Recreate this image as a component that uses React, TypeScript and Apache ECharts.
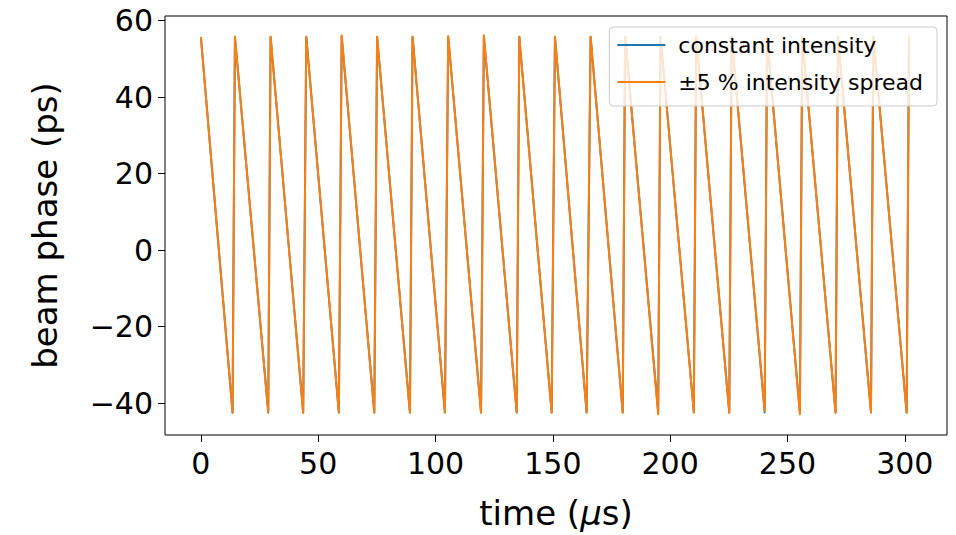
import React, { useEffect, useRef } from "react";
import * as echarts from "echarts";

// Sawtooth vertices (time in µs, phase in ps)
const peakTimes = [0, 14.5, 29.7, 44.9, 60.0, 75.1, 90.2, 105.4, 120.6, 135.7, 150.9, 166.1, 180.8, 195.9, 211.1, 226.2, 241.3, 256.3, 271.5, 286.6, 301.8];
const bottomTimes = [13.5, 28.7, 43.6, 58.8, 73.9, 89.1, 104.0, 119.4, 134.6, 149.5, 164.4, 179.8, 194.9, 210.1, 225.2, 240.3, 255.3, 270.5, 285.6, 300.8];

const constPeaks = [55.7, 55.8, 55.8, 55.8, 55.8, 55.8, 55.8, 55.8, 55.8, 55.8, 55.8, 55.8, 55.8, 55.8, 55.8, 55.8, 55.8, 55.8, 55.8, 55.8, 55.8];
const constBottoms = [-42.4, -42.4, -42.4, -42.4, -42.4, -42.4, -42.4, -42.4, -42.4, -42.4, -42.4, -42.4, -42.4, -42.4, -42.4, -42.4, -42.4, -42.4, -42.4, -42.4];

const spreadPeaks = [55.7, 55.8, 55.8, 55.8, 56.2, 55.8, 55.8, 55.9, 56.2, 55.8, 55.8, 55.8, 55.8, 55.8, 55.9, 55.8, 55.8, 55.8, 55.8, 55.8, 55.8];
const spreadBottoms = [-42.5, -42.4, -42.5, -42.4, -42.5, -42.5, -42.4, -42.5, -42.4, -42.5, -42.4, -42.5, -42.9, -42.4, -42.5, -42.0, -42.9, -42.5, -42.4, -42.5];

const xTicks = [0, 50, 100, 150, 200, 250, 300];
const yTicks = [-40, -20, 0, 20, 40, 60];
const seriesNames = ["constant intensity", "±5 % intensity spread"];
const seriesColors = ["#1f77b4", "#ff7f0e"];

function buildPoints(peaks: number[], bottoms: number[]): number[][] {
  const pts: number[][] = [];
  for (let i = 0; i < peakTimes.length; i++) {
    pts.push([peakTimes[i], peaks[i]]);
    if (i < bottomTimes.length) pts.push([bottomTimes[i], bottoms[i]]);
  }
  return pts;
}

const FONT = "DejaVu Sans";
const fmt = (v: number) => (v < 0 ? "\u2212" + Math.abs(v) : String(v));

export default function App() {
  const ref = useRef<HTMLDivElement>(null);
  useEffect(() => {
    if (!ref.current) return;
    const chart = echarts.init(ref.current, null, { renderer: "svg" });
    chart.setOption({
      animation: false,
      backgroundColor: "#ffffff",
      grid: {
        left: 165,
        right: 9,
        top: 16,
        bottom: 98,
        show: true,
        borderColor: "#000000",
        borderWidth: 1,
        backgroundColor: "transparent",
      },
      legend: {
        data: seriesNames,
        orient: "vertical",
        right: 19,
        top: 27,
        icon: "rect",
        itemWidth: 48,
        itemHeight: 2,
        itemGap: 13,
        padding: [6, 14, 12, 8],
        backgroundColor: "rgba(255,255,255,0.8)",
        borderColor: "#cccccc",
        borderWidth: 1,
        borderRadius: 4,
        textStyle: {
          fontFamily: FONT,
          fontSize: 22,
          color: "#000000",
          lineHeight: 24,
          padding: [0, 0, 0, 8],
        },
      },
      xAxis: {
        type: "value",
        min: -15.3,
        max: 318,
        name: "time ({i|μ}s)",
        nameLocation: "middle",
        nameGap: 61,
        nameTextStyle: {
          fontFamily: FONT,
          fontSize: 34,
          color: "#000000",
          rich: {
            i: { fontFamily: FONT, fontSize: 34, fontStyle: "italic", color: "#000000" },
          },
        },
        splitLine: { show: false },
        axisLine: { show: false, onZero: false },
        axisTick: {
          show: true,
          inside: false,
          length: 7,
          lineStyle: { color: "#000000", width: 1 },
          customValues: xTicks,
        },
        axisLabel: {
          fontFamily: FONT,
          fontSize: 30,
          color: "#000000",
          margin: 13,
          customValues: xTicks,
          formatter: fmt,
        },
      },
      yAxis: {
        type: "value",
        min: -48.3,
        max: 61.2,
        name: "beam phase (ps)",
        nameLocation: "middle",
        nameRotate: 90,
        nameGap: 103,
        nameTextStyle: { fontFamily: FONT, fontSize: 34, color: "#000000" },
        splitLine: { show: false },
        axisLine: { show: false, onZero: false },
        axisTick: {
          show: true,
          inside: false,
          length: 7,
          lineStyle: { color: "#000000", width: 1 },
          customValues: yTicks,
        },
        axisLabel: {
          fontFamily: FONT,
          fontSize: 30,
          color: "#000000",
          margin: 12,
          customValues: yTicks,
          formatter: fmt,
        },
      },
      series: [
        {
          name: seriesNames[0],
          type: "line",
          data: buildPoints(constPeaks, constBottoms),
          showSymbol: false,
          symbol: "none",
          color: seriesColors[0],
          lineStyle: { width: 2, color: seriesColors[0], join: "round" },
          z: 2,
        },
        {
          name: seriesNames[1],
          type: "line",
          data: buildPoints(spreadPeaks, spreadBottoms),
          showSymbol: false,
          symbol: "none",
          color: seriesColors[1],
          lineStyle: { width: 2, color: seriesColors[1], join: "round" },
          z: 3,
        },
      ],
    });
    return () => chart.dispose();
  }, []);
  return (
    <div
      ref={ref}
      style={{ position: "absolute", left: 0, top: 0, width: 956, height: 535 }}
    />
  );
}
